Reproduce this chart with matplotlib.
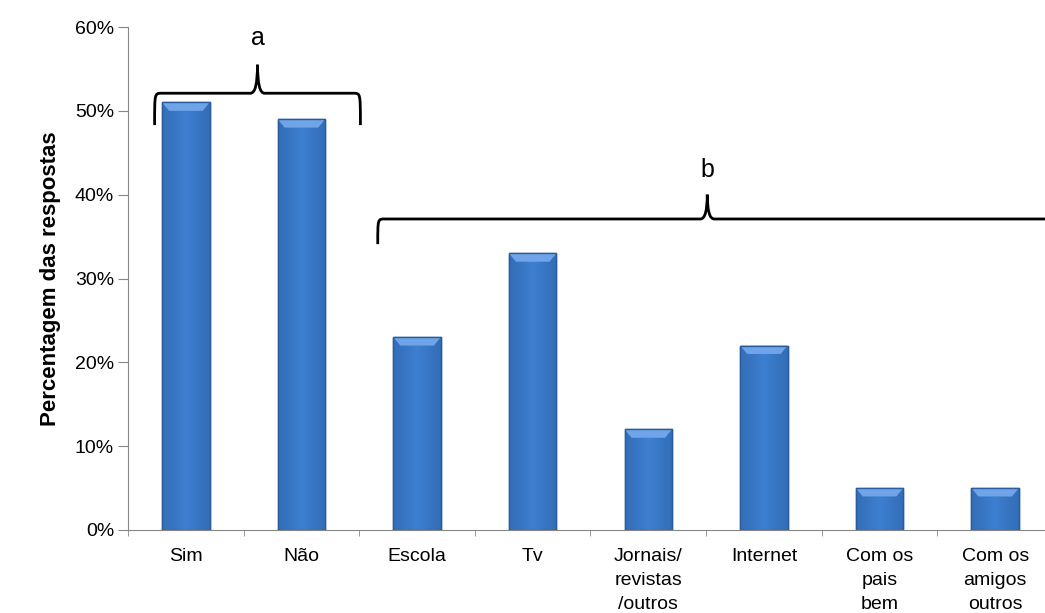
import numpy as np
import matplotlib.pyplot as plt
from matplotlib.path import Path
from matplotlib.patches import PathPatch, Polygon
from matplotlib.colors import LinearSegmentedColormap
from matplotlib.ticker import PercentFormatter

plt.rcParams['font.family'] = ['Liberation Sans', 'DejaVu Sans']

## Data
categorias = ['Sim', 'Não', 'Escola', 'Tv', 'Jornais/\nrevistas\n/outros',
              'Internet', 'Com os\npais\nbem', 'Com os\namigos\noutros']
percentagens = [51, 49, 23, 33, 12, 22, 5, 5]
y_ticks = [0, 10, 20, 30, 40, 50, 60]

## Figure, axes run a little past the right edge
W, H = 1045, 613
fig = plt.figure(figsize=(W / 100, H / 100), dpi=100)
ax = fig.add_axes([128 / W, (H - 530) / H, 925 / W, 503 / H])

x = np.arange(len(categorias))
largura = 0.41
bars = ax.bar(x, percentagens, width=largura, color='#3b7bcc',
              edgecolor='#2b5c9c', linewidth=1.0, zorder=2)

# horizontal shading inside each bar (darker at the sides)
grad = np.linspace(0, 1, 64)
grad = 1 - 0.5 * np.abs(grad - 0.5) * 2
grad = np.tile(grad, (2, 1))
cmap = LinearSegmentedColormap.from_list('azul', ['#2a5c9e', '#3d7fd0'])
for b in bars:
    x0, w, h = b.get_x(), b.get_width(), b.get_height()
    im = ax.imshow(grad, extent=[x0, x0 + w, 0, h], aspect='auto',
                   cmap=cmap, vmin=0, vmax=1, zorder=2.5)
    im.set_clip_path(b)
    # light bevel on the top
    d = 0.06
    bevel = Polygon([[x0, h], [x0 + w, h], [x0 + w - d, h - 1.0], [x0 + d, h - 1.0]],
                    closed=True, fc='#6fa5e8', ec='none', zorder=3)
    ax.add_patch(bevel)
    ax.add_patch(Polygon([[x0, 0], [x0, h], [x0 + w, h], [x0 + w, 0]], closed=True,
                         fc='none', ec='#2b5c9c', lw=1.0, zorder=3.5))

ax.set_xlim(-0.5, len(categorias) - 0.5)
ax.set_ylim(0, 60)
ax.set_yticks(y_ticks)
ax.yaxis.set_major_formatter(PercentFormatter(decimals=0))
ax.set_xticks(x)
ax.set_xticklabels(categorias, fontsize=14, va='top', linespacing=1.55)
ax.set_xticks(np.arange(len(categorias) + 1) - 0.5, minor=True)
ax.tick_params(axis='x', which='major', length=0, pad=13)
ax.tick_params(axis='x', which='minor', length=4, color='#868686', direction='out')
ax.tick_params(axis='y', length=7, color='#868686', labelsize=14, pad=3)
for s in ['top', 'right']:
    ax.spines[s].set_visible(False)
for s in ['left', 'bottom']:
    ax.spines[s].set_color('#868686')
ax.set_ylabel('Percentagem das respostas', fontsize=16, fontweight='bold', labelpad=10)


## Curly brackets
def chave(ax, x1, xm, x2, y, ponta, base, label, y_label):
    r = 0.06
    verts = [(x1, base), (x1, y), (x1, y), (x1 + r, y),
             (xm - r, y), (xm, y), (xm, ponta),
             (xm, y), (xm + r, y),
             (x2 - r, y), (x2, y), (x2, y), (x2, base)]
    codes = [Path.MOVETO, Path.CURVE4, Path.CURVE4, Path.CURVE4,
             Path.LINETO, Path.CURVE3, Path.CURVE3,
             Path.CURVE3, Path.CURVE3,
             Path.LINETO, Path.CURVE4, Path.CURVE4, Path.CURVE4]
    ax.add_patch(PathPatch(Path(verts, codes), fc='none', ec='black',
                           lw=2.0, clip_on=False, zorder=4))
    ax.text(xm, y_label, label, ha='center', va='center', fontsize=18)


chave(ax, -0.27, 0.62, 1.51, 52.1, 55.5, 48.3, 'a', 58.7)
chave(ax, 1.66, 4.51, 7.7, 37.1, 40.0, 34.1, 'b', 43.0)

plt.savefig('out.png', dpi=100)
